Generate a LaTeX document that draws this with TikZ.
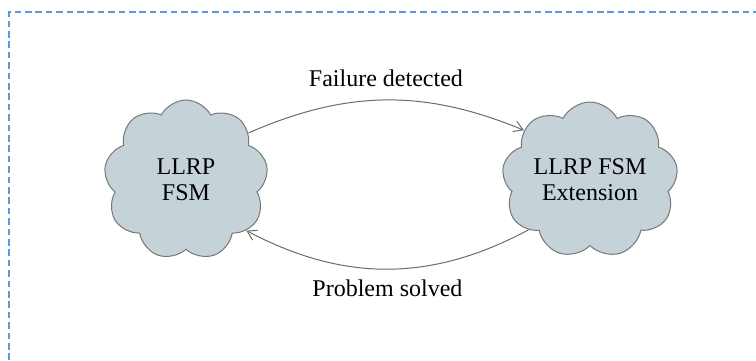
\documentclass[tikz,border=0pt]{standalone}
\usepackage{fontspec}
\setmainfont{Liberation Serif}
\usetikzlibrary{arrows.meta, positioning, shapes.symbols}
\definecolor{cloudfill}{HTML}{C5D3D8}
\definecolor{clouddraw}{HTML}{767676}
\definecolor{flowcolor}{HTML}{6B6B6B}
\definecolor{framecolor}{HTML}{5B9BD5}

\begin{document}
\begin{tikzpicture}[x=0.5pt, y=0.5pt,
    every node/.style={font=\fontsize{12}{13}\selectfont},
    cloudbox/.style={cloud, cloud puffs=9, cloud puff arc=125, cloud ignores aspect,
        draw=clouddraw, fill=cloudfill, line width=0.5pt,
        minimum width=82pt, minimum height=80pt, align=center, inner sep=0pt},
    flow/.style={flowcolor, line width=0.5pt, -{Straight Barb[length=4.5pt, width=5.5pt]}},
    lbl/.style={text=black},
]
\useasboundingbox (0,0) rectangle (756,360);

% ---------------- frame (only top and left edge are visible)
\draw[framecolor, line width=0.8pt, dash pattern=on 3.3pt off 1.9pt] (9,0) -- (9,348) -- (756,348);

% ---------------- the two state machines
\node[cloudbox] (fsm) at (186,180) {LLRP\\FSM};
\node[cloudbox, minimum width=88pt, minimum height=78pt] (ext) at (590,180) {LLRP FSM\\Extension};

% ---------------- transitions
\draw[flow] (fsm.37) to[bend left=23] node[lbl, above=3pt] {Failure detected} (ext.143);
\draw[flow] (ext.219) to[bend left=28] node[lbl, below=2pt] {Problem solved} (fsm.320);
\end{tikzpicture}
\end{document}
